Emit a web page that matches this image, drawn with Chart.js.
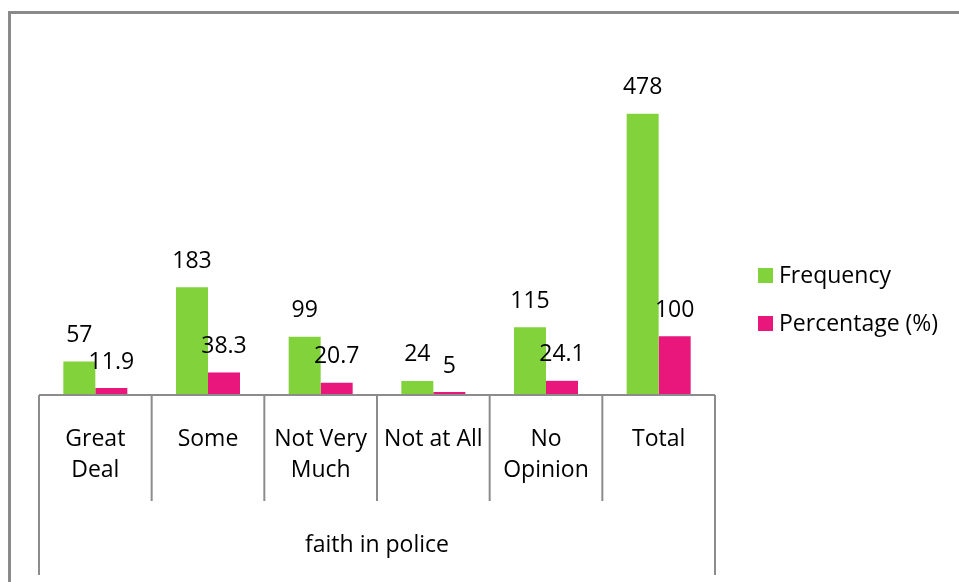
<!DOCTYPE html>
<html>
<head>
<meta charset="utf-8">
<script src="https://cdn.jsdelivr.net/npm/chart.js@4/dist/chart.umd.min.js"></script>
<style>
  html, body { margin: 0; padding: 0; background: #fff; overflow: hidden; }
  #wrap { position: relative; width: 959px; height: 582px; }
  #frame {
    position: absolute; left: 8px; top: 11px; width: 960px; height: 620px;
    border: 3px solid #8a8a8a; box-sizing: border-box;
  }
  canvas { position: absolute; left: 0; top: 0; }
</style>
</head>
<body>
<div id="wrap">
  <div id="frame"></div>
  <canvas id="chart" width="959" height="582"></canvas>
</div>
<script>
const categories = [['Great', 'Deal'], ['Some'], ['Not Very', 'Much'], ['Not at All'], ['No', 'Opinion'], ['Total']]
const groupLabel = 'faith in police'
const frequency = [57, 183, 99, 24, 115, 478]
const percentage = [11.9, 38.3, 20.7, 5, 24.1, 100]

const GREEN = 'rgb(130, 210, 60)'
const PINK = 'rgb(233, 22, 123)'
const AXIS = '#8c8c8c'
const FONT = '23px "Open Sans", sans-serif'

// Excel-style two-level category axis, value labels and legend
const decorations = {
  id: 'decorations',
  afterDatasetsDraw(chart) {
    const { ctx, chartArea } = chart
    const x = chart.scales.x
    const base = chartArea.bottom
    const step = x.getPixelForValue(1) - x.getPixelForValue(0)

    ctx.save()
    ctx.font = FONT
    ctx.fillStyle = '#000'
    ctx.textAlign = 'center'
    ctx.textBaseline = 'middle'

    // value labels above each bar
    chart.data.datasets.forEach((ds, i) => {
      chart.getDatasetMeta(i).data.forEach((bar, j) => {
        ctx.fillText(String(ds.data[j]), bar.x, bar.y - 26)
      })
    })

    // axis line and category dividers
    ctx.strokeStyle = AXIS
    ctx.lineWidth = 2
    ctx.beginPath()
    ctx.moveTo(chartArea.left, base)
    ctx.lineTo(chartArea.right, base)
    for (let i = 0; i <= categories.length; i++) {
      const px = x.getPixelForValue(0) - step / 2 + i * step
      const outer = i === 0 || i === categories.length
      ctx.moveTo(px, base)
      ctx.lineTo(px, base + (outer ? 180 : 106))
    }
    ctx.stroke()

    // category labels
    categories.forEach((lines, i) => {
      const cx = x.getPixelForValue(i)
      lines.forEach((t, k) => ctx.fillText(t, cx, base + 44 + k * 31))
    })

    // group label
    ctx.fillText(groupLabel, (chartArea.left + chartArea.right) / 2, base + 150)

    // legend
    ctx.textAlign = 'left'
    chart.data.datasets.forEach((ds, i) => {
      const ly = 276 + i * 48
      ctx.fillStyle = ds.backgroundColor
      ctx.fillRect(758, ly - 8, 15, 15)
      ctx.fillStyle = '#000'
      ctx.fillText(ds.label, 779, ly)
    })
    ctx.restore()
  }
}

new Chart(document.getElementById('chart'), {
  type: 'bar',
  data: {
    labels: categories.map(c => c.join(' ')),
    datasets: [
      { label: 'Frequency', data: frequency, backgroundColor: GREEN },
      { label: 'Percentage (%)', data: percentage, backgroundColor: PINK }
    ]
  },
  options: {
    responsive: false,
    animation: false,
    layout: { padding: { left: 39, right: 244, top: 42, bottom: 187 } },
    datasets: {
      bar: { categoryPercentage: 0.568, barPercentage: 1 }
    },
    plugins: {
      legend: { display: false },
      tooltip: { enabled: false }
    },
    scales: {
      x: { display: false },
      y: { display: false, min: 0, max: 600 }
    }
  },
  plugins: [decorations]
})
</script>
</body>
</html>
